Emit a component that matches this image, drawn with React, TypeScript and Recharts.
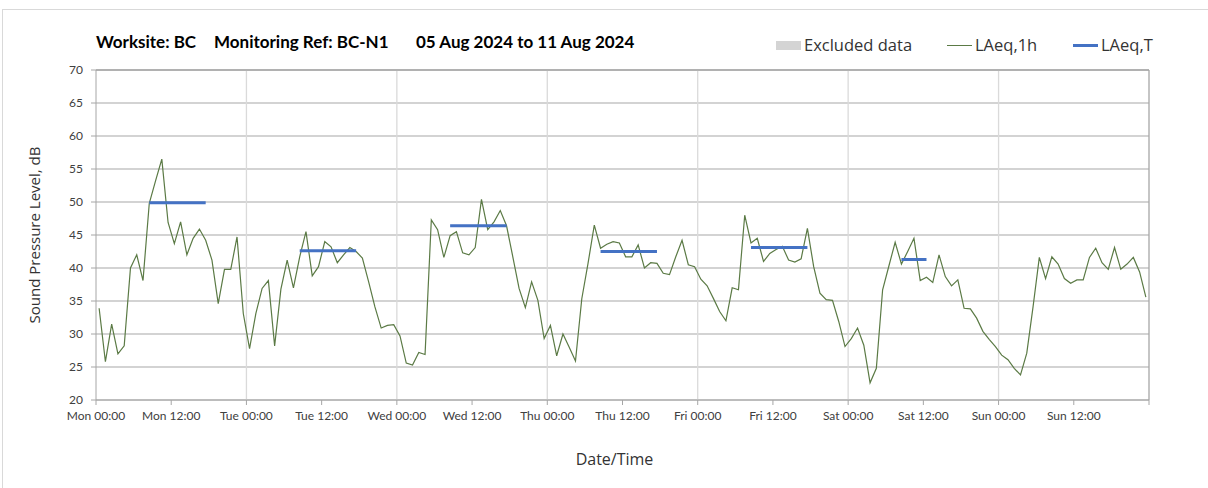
import React from "react";
import { CartesianGrid, Line, LineChart, ReferenceLine, XAxis, YAxis } from "recharts";

// hourly LAeq,1h, Mon 00:00 .. Sun 23:00 (plotted at the middle of each hour)
const laeq1h = [
  33.9, 25.8, 31.5, 27.0, 28.2, 40.0, 42.0, 38.1, 49.8, 53.2, 56.5, 46.9, 43.7, 47.0, 42.0, 44.5, 45.9, 44.2, 41.2, 34.6, 39.8, 39.8, 44.7, 33.1,
  27.8, 33.1, 36.9, 38.1, 28.2, 36.8, 41.2, 37.0, 41.7, 45.5, 38.8, 40.2, 44.0, 43.2, 40.8, 42.0, 43.1, 42.5, 41.5, 37.9, 34.1, 30.9, 31.3, 31.4,
  29.7, 25.6, 25.3, 27.2, 26.9, 47.3, 45.8, 41.6, 44.9, 45.5, 42.3, 42.0, 43.1, 50.4, 45.8, 47.0, 48.7, 46.4, 41.7, 36.9, 34.0, 37.9, 35.1, 29.3,
  31.3, 26.7, 30.0, 28.0, 25.9, 35.3, 40.7, 46.5, 43.0, 43.6, 44.0, 43.8, 41.7, 41.7, 43.5, 40.0, 40.8, 40.7, 39.2, 39.0, 41.7, 44.2, 40.5, 40.2,
  38.3, 37.3, 35.4, 33.4, 32.0, 37.0, 36.7, 48.0, 43.8, 44.5, 41.0, 42.2, 42.8, 43.3, 41.2, 40.9, 41.4, 46.0, 40.2, 36.2, 35.2, 35.1, 31.9, 28.1,
  29.3, 30.9, 28.3, 22.6, 24.8, 36.7, 40.3, 43.9, 40.6, 42.5, 44.5, 38.1, 38.6, 37.8, 42.0, 38.7, 37.3, 38.2, 33.9, 33.8, 32.4, 30.4, 29.2, 28.1,
  26.8, 26.1, 24.8, 23.8, 27.1, 34.1, 41.6, 38.4, 41.7, 40.6, 38.4, 37.7, 38.2, 38.2, 41.6, 43.0, 40.8, 39.8, 43.1, 39.8, 40.6, 41.6, 39.4, 35.6,
];

// LAeq,T per day: first hour, last hour, level
const periodStart = [8, 32, 56, 80, 104, 128];
const periodEnd = [17, 41, 65, 89, 113, 132];
const periodLevel = [49.9, 42.6, 46.4, 42.5, 43.1, 41.3];

const xTicks = [0, 12, 24, 36, 48, 60, 72, 84, 96, 108, 120, 132, 144, 156, 168];
const xTickLabels = [
  "Mon 00:00", "Mon 12:00", "Tue 00:00", "Tue 12:00", "Wed 00:00", "Wed 12:00", "Thu 00:00",
  "Thu 12:00", "Fri 00:00", "Fri 12:00", "Sat 00:00", "Sat 12:00", "Sun 00:00", "Sun 12:00", "",
];
const dayLines = [24, 48, 72, 96, 120, 144];
const yTicks = [20, 25, 30, 35, 40, 45, 50, 55, 60, 65, 70];

const data = laeq1h.map((v, i) => {
  const p = periodStart.findIndex((s, k) => i >= s && i <= periodEnd[k]);
  return { h: i + 0.5, laeq1h: v, laeqT: p >= 0 ? periodLevel[p] : null };
});

const font = "Lato, 'Open Sans', sans-serif";
const sans = "'Open Sans', sans-serif";
const axisGrey = "#a6a6a6";

const titleStyle: React.CSSProperties = { position: "absolute", top: 31, fontSize: 17, fontWeight: 700, color: "#000", whiteSpace: "nowrap" };
const legendText: React.CSSProperties = { position: "absolute", top: 33, fontSize: 16.5, color: "#333", fontFamily: sans, whiteSpace: "nowrap" };

export default function App() {
  return (
    <div style={{ position: "absolute", left: 0, top: 0, width: 1208, height: 488, background: "#fff", overflow: "hidden", fontFamily: font }}>
      <div style={{ position: "absolute", left: 2, top: 9, width: 1220, height: 500, border: "1px solid #d9d9d9" }} />
      <span style={{ ...titleStyle, left: 96 }}>Worksite: BC</span>
      <span style={{ ...titleStyle, left: 214 }}>Monitoring Ref: BC-N1</span>
      <span style={{ ...titleStyle, left: 416 }}>05 Aug 2024 to 11 Aug 2024</span>

      <span style={{ position: "absolute", left: 776, top: 41, width: 25, height: 9, background: "#d4d4d4" }} />
      <span style={{ ...legendText, left: 804 }}>Excluded data</span>
      <span style={{ position: "absolute", left: 947, top: 45, width: 25, height: 1, background: "#5b7a45" }} />
      <span style={{ ...legendText, left: 975 }}>LAeq,1h</span>
      <span style={{ position: "absolute", left: 1073, top: 44, width: 25, height: 3, background: "#4472c4" }} />
      <span style={{ ...legendText, left: 1101 }}>LAeq,T</span>

      <div style={{ position: "absolute", left: 0, top: 0 }}>
        <LineChart width={1208} height={488} data={data} margin={{ top: 70, right: 59, left: 36, bottom: 48 }}>
          <CartesianGrid vertical={false} stroke="#c4c4c4" strokeWidth={1.3} />
          {dayLines.map((d) => (
            <ReferenceLine key={d} x={d} stroke="#dadada" strokeWidth={1.3} />
          ))}
          <ReferenceLine x={168} stroke={axisGrey} strokeWidth={1.3} />
          <ReferenceLine y={70} stroke={axisGrey} strokeWidth={1.3} />
          <XAxis
            dataKey="h"
            type="number"
            domain={[0, 168]}
            ticks={xTicks}
            tickFormatter={(v: number) => xTickLabels[v / 12]}
            interval={0}
            height={40}
            stroke={axisGrey}
            tickSize={5}
            tickMargin={6}
            tick={{ fontSize: 12, fill: "#404040", fontFamily: font }}
            label={{ value: "Date/Time", position: "bottom", offset: 14, dx: -8, style: { fontSize: 16, fill: "#333", fontFamily: sans } }}
          />
          <YAxis
            type="number"
            domain={[20, 70]}
            ticks={yTicks}
            interval={0}
            width={60}
            stroke={axisGrey}
            tickSize={5}
            tickMargin={8}
            tick={{ fontSize: 12, fill: "#404040", fontFamily: font }}
            label={{ value: "Sound Pressure Level, dB", angle: -90, position: "insideLeft", offset: -1, style: { textAnchor: "middle", fontSize: 15, fill: "#333", fontFamily: sans } }}
          />
          <Line dataKey="laeq1h" stroke="#5b7a45" strokeWidth={1.2} dot={false} isAnimationActive={false} />
          <Line dataKey="laeqT" stroke="#4472c4" strokeWidth={3} dot={false} connectNulls={false} isAnimationActive={false} />
        </LineChart>
      </div>
    </div>
  );
}
